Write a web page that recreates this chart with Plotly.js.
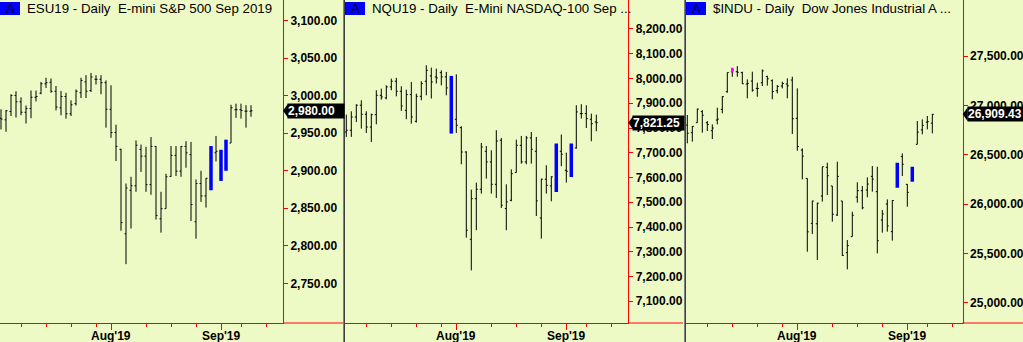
<!DOCTYPE html>
<html><head><meta charset="utf-8">
<script src="https://cdn.plot.ly/plotly-3.0.1.min.js"></script>
<style>html,body{margin:0;padding:0;background:#EEFAC6;}#chart{width:1023px;height:342px;}</style>
</head><body><div id="chart"></div>
<script>
// ---------- data (trading-day index 0 = 1 Jul 2019) ----------
const dateTickIdx = [22, 44];
const dateTickText = ["Aug'19", "Sep'19"];
const weekTickIdx = [4, 9, 14, 19, 29, 34, 39, 48, 53];

// ESU19
const esOpen  = [2970,2968,2979,3000.5,2992,2978,2983,2998,3003.5,3016,3018,3006,2984,2999,2976,2989.5,3004,3018.5,3007,3022,3022,3017.5,2982,2951,2928.5,2816,2874,2880,2928.5,2919.5,2881.5,2932.5,2836,2849.5,2892.5,2920.5,2899.5,2932.5,2921.5,2832,2883,2866.5,2890,2924,2925,2905,2937,2981.5,2981.5,2979.5,2979.5];
const esHigh  = [2982,2981,3002,3006,2998,2987,3007,3007,3018.5,3024,3023,3013,3006.5,3004,2994,3008.5,3024,3027.5,3030.5,3027.5,3027.5,3020.5,3014,2961.5,2929.5,2883,2892,2940.5,2935,2932,2945,2933,2872,2896,2933,2933,2933,2939.5,2938.5,2888.5,2900,2890.5,2933,2946.5,2928,2941.5,2988,2989.5,2989.5,2987.5,2987.5];
const esLow   = [2955,2952,2973,2971,2974,2963,2970,2992.5,3002,3010.5,3004,2980.5,2974,2969.5,2973,2987,2997,2997,3005,3015,3002,2957.5,2944,2913,2820,2775.5,2823,2872,2898.5,2872,2868,2835,2817.5,2849.5,2892,2893,2892,2904,2833,2809.5,2858.5,2851,2874,2912.5,2886.5,2900,2937,2970.5,2969.5,2957.5,2972];
const esClose = [2969,2980,3000.5,2992,2978,2983,2998,2999,3016,3017.5,3006,2985,2999,2976,2988,3006,3020.5,3006,3025,3022,3017.5,2982,2951,2932.5,2831,2877,2880,2934,2919.5,2881.5,2932.5,2840.5,2849.5,2892,2920.5,2899.5,2932.5,2924,2855,2883,2866.5,2890,2925,2926,2905,2938,2984,2981.5,2980.5,2979.5,2980];
const esBlue  = [42, 44, 45];
const esLast  = 2980.00;
const esTicks = [2750,2800,2850,2900,2950,3000,3050,3100];

// NQU19
const nqOpen  = [7784,7791,7844.5,7892,7855.5,7804,7854,7932,7921.5,7966,7989,7948.5,7871.5,7935,7827,7928,7989,8010.5,8006.5,8023.5,8006.5,7962,7835,7801.5,7703,7350.5,7514.5,7552.5,7706,7663,7572.5,7750.5,7474.5,7508,7620,7730,7663,7760,7706,7436.5,7593,7566,7602.5,7706,7629,7625,7719.5,7858,7858,7835.5,7824.5];
const nqHigh  = [7854,7867.5,7896,7912,7867.5,7858,7952.5,7959,7972.5,7999.5,8002.5,7968.5,7955,7986,7939,7989,8053.5,8044,8040,8033,8026.5,8010.5,8017,7807,7706,7551,7579.5,7739.5,7727.5,7710,7791,7760,7572.5,7633,7753,7768,7768,7784,7764,7595.5,7649.5,7605,7737,7773.5,7700.5,7737,7892,7896,7892,7858,7854];
const nqLow   = [7764,7764,7824.5,7797.5,7780,7743.5,7815,7914.5,7916,7952.5,7928,7869,7835.5,7817.5,7822,7912,7932,7919,7979.5,7972.5,7932,7777.5,7780,7653.5,7357,7225,7387,7535,7595.5,7535,7517.5,7477,7387,7504,7620,7656,7653.5,7656,7444.5,7353,7535,7504,7541.5,7645.5,7579.5,7602.5,7716.5,7838,7800,7746.5,7787];
const nqClose = [7791,7844.5,7892,7855.5,7804,7854,7932,7925.5,7966,7989,7948.5,7889,7935,7844.5,7928,7979.5,8033,7986,8002.5,8006.5,7962,7790,7811,7703,7387,7514.5,7552.5,7723.5,7663,7572.5,7747.5,7488,7501.5,7615.5,7730,7663,7760,7714,7505.5,7593,7568.5,7602.5,7720,7694,7625,7720,7865,7858,7838,7817.5,7821.25];
const nqBlue  = [21, 42, 45];
const nqLast  = 7821.25;
const nqTicks = [7100,7200,7300,7400,7500,7600,7700,7800,7900,8000,8100,8200];

// $INDU
const djOpen  = [26800,26723,26824,26936,26824,26743,26851,26959,27138,27340,27341,27331,27216,27246,27172,27229,27292,27250,27148,27196,27216,27256,26868,26547,26260,25804,25800,26081,26372,26183,25889,26031,25507,25669,26070,26135,26142,26280,26125,25838,26000,25720,26170,26480,26200,26250,26605,26751,26830,26820];
const djHigh  = [26902,26790,26966,26952,26841,26807,26976,27094,27333,27380,27398,27341,27263,27341,27229,27364,27300,27263,27206,27240,27273,27290,27172,26564,26260,26034,26014,26378,26419,26183,26429,26031,25635,25922,26220,26183,26270,26385,26378,25939,26047,26041,26419,26513,26203,26378,26841,26858,26892,26912];
const djLow   = [26615,26632,26824,26723,26740,26659,26807,26919,27128,27290,27290,27216,27071,27138,27087,27196,27200,27061,27121,27172,27071,26709,26540,26250,25517,25696,25433,26024,26091,25821,25879,25473,25338,25669,26014,25946,26068,26125,25500,25710,25720,25629,26166,26284,25973,26226,26605,26706,26757,26716];
const djClose = [26717,26787,26962,26900,26806,26770,26860,27088,27332,27359,27335,27219,27223,27154,27171,27349,27269,27140,27192,27221,27198,26864,26583,26485,25718,26030,26008,26378,26287,25897,26280,25479,25579,25886,26135,25962,26202,26252,25628,25899,25778,26036,26362,26403,26118,26355,26728,26797,26835,26909.43];
const djBlue  = [42, 45];
const djPinkIdx = [9];
const djPinkLow = [27335];
const djLast  = 26909.43;
const djTicks = [25000,25500,26000,26500,27000,27500];

// ---------- helpers ----------
const W = 1023, H = 342;
const BG = '#EEFAC6';
const px = p => p / W;
const py = p => 1 - p / H;
const FONT = 'Liberation Sans, Arial, sans-serif';

function ohlc(o, h, l, c, skip, xa, ya) {
  const X=[],O=[],Hh=[],L=[],C=[];
  o.forEach((v,i)=>{ if(!skip.includes(i)){X.push(i);O.push(v);Hh.push(h[i]);L.push(l[i]);C.push(c[i]);} });
  return {type:'ohlc', x:X, open:O, high:Hh, low:L, close:C, xaxis:xa, yaxis:ya,
    increasing:{line:{color:'#000',width:1}}, decreasing:{line:{color:'#000',width:1}},
    tickwidth:0.3, hoverinfo:'skip', showlegend:false};
}
function segs(idx, lo, hi, color, width, xa, ya) {
  const x=[], y=[];
  idx.forEach((i,k)=>{ x.push(i,i,null); y.push(lo[k],hi[k],null); });
  return {type:'scatter', mode:'lines', x, y, xaxis:xa, yaxis:ya,
    line:{color, width}, hoverinfo:'skip', showlegend:false};
}

const traces = [
  ohlc(esOpen,esHigh,esLow,esClose,esBlue,'x','y'),
  segs(esBlue, esBlue.map(i=>esLow[i]), esBlue.map(i=>esHigh[i]), '#0000FF', 3.5, 'x','y'),
  ohlc(nqOpen,nqHigh,nqLow,nqClose,nqBlue,'x2','y2'),
  segs(nqBlue, nqBlue.map(i=>nqLow[i]), nqBlue.map(i=>nqHigh[i]), '#0000FF', 3.5, 'x2','y2'),
  ohlc(djOpen,djHigh,djLow,djClose,djBlue,'x3','y3'),
  segs(djBlue, djBlue.map(i=>djLow[i]), djBlue.map(i=>djHigh[i]), '#0000FF', 3.5, 'x3','y3'),
  segs(djPinkIdx, djPinkLow, djPinkIdx.map(i=>djHigh[i]), '#FF00FF', 2.5, 'x3','y3'),
];

const panels = [
  {left:0,   right:283,   end:343,  i0:1,     yr:[2697.07,3127.7], ticks:esTicks, last:esLast, lastTxt:'2,980.00',
   title:'ESU19 - Daily\u00a0 E-mini S&P 500 Sep 2019'},
  {left:345, right:628.3, end:683,  i0:346.3, yr:[7012.3,8317.1],  ticks:nqTicks, last:nqLast, lastTxt:'7,821.25',
   title:'NQU19 - Daily\u00a0 E-Mini NASDAQ-100 Sep ...'},
  {left:686, right:962.7, end:1023, i0:687.3, yr:[24794.3,28067.5],ticks:djTicks, last:djLast, lastTxt:'26,909.43',
   title:'$INDU - Daily\u00a0 Dow Jones Industrial A ...'},
];

const layout = {
  width: W, height: H, margin:{l:0,r:0,t:0,b:0},
  paper_bgcolor: BG, plot_bgcolor: BG, showlegend:false, dragmode:false,
  shapes: [], annotations: []
};
const bottomY = 19 / H;
panels.forEach((p, k) => {
  const sfx = k === 0 ? '' : String(k+1);
  layout['xaxis'+sfx] = {
    domain:[px(p.left), px(p.right)], anchor:'y'+sfx,
    range:[(p.left-p.i0)/5, (p.right-p.i0)/5],
    showline:true, linecolor:'#FF0000', linewidth:1,
    ticks:'outside', ticklen:6, tickcolor:'#FF0000', tickwidth:1,
    tickmode:'array', tickvals:dateTickIdx, ticktext:dateTickText, showticklabels:false,
    minor:{tickmode:'array', tickvals:weekTickIdx, ticks:'outside', ticklen:3, tickcolor:'#FF0000', tickwidth:1, showgrid:false},
    showgrid:false, zeroline:false, fixedrange:true, rangeslider:{visible:false}
  };
  layout['yaxis'+sfx] = {
    domain:[bottomY, 1], anchor:'x'+sfx, side:'right', range:p.yr,
    showline:true, linecolor:'#FF0000', linewidth:1,
    ticks:'outside', ticklen:4, tickcolor:'#FF0000', tickwidth:1,
    tickmode:'array', tickvals:p.ticks, tickformat:',.2f',
    tickfont:{family:FONT, size:12, color:'#000', weight:'bold'},
    showgrid:false, zeroline:false, fixedrange:true
  };
  dateTickIdx.forEach((d, j) => {
    layout.annotations.push({xref:'x'+sfx, yref:'paper', x:d, y:py(336), xanchor:'center', yanchor:'middle',
      text:dateTickText[j], showarrow:false, font:{family:FONT, size:12, color:'#000', weight:'bold'}});
  });
  layout.shapes.push({type:'line', xref:'paper', yref:'paper', x0:px(p.right), x1:px(p.end), y0:bottomY, y1:bottomY,
    line:{color:'#FF0000', width:1}});
  layout.shapes.push({type:'rect', xref:'paper', yref:'paper', x0:px(p.left), x1:px(p.left+20), y0:py(15), y1:py(2),
    fillcolor:'#0000FF', line:{width:0}});
  layout.annotations.push({xref:'paper', yref:'paper', x:px(p.left+10), y:py(8.5), xanchor:'center', yanchor:'middle',
    text:'A', showarrow:false, font:{family:FONT, size:13, color:'#000'}});
  layout.annotations.push({xref:'paper', yref:'paper', x:px(p.left+25), y:py(9), xanchor:'left', yanchor:'middle',
    text:p.title, showarrow:false, font:{family:FONT, size:13.3, color:'#000'}});
  layout.shapes.push({type:'path', xref:'paper', yref:'y'+sfx, xsizemode:'pixel', ysizemode:'pixel',
    xanchor:px(p.right), yanchor:p.last, path:'M0,0 L5,7 L5,-7 Z', fillcolor:'#000', line:{width:0}});
  layout.annotations.push({xref:'paper', yref:'y'+sfx, x:px(p.right+4), y:p.last, xanchor:'left', yanchor:'middle',
    text:p.lastTxt, showarrow:false, bgcolor:'#000', borderpad:0, width:p.end-p.right-4, height:14, align:'left',
    font:{family:FONT, size:12, color:'#FFF', weight:'bold'}});
});
[343, 684].forEach(x => {
  layout.shapes.push({type:'line', xref:'paper', yref:'paper', x0:px(x+0.5), x1:px(x+0.5), y0:0, y1:1, line:{color:'#808080', width:1}});
  layout.shapes.push({type:'line', xref:'paper', yref:'paper', x0:px(x+1.5), x1:px(x+1.5), y0:0, y1:1, line:{color:'#404040', width:1}});
});

Plotly.newPlot('chart', traces, layout, {staticPlot:true, displayModeBar:false});
</script>
</body></html>
